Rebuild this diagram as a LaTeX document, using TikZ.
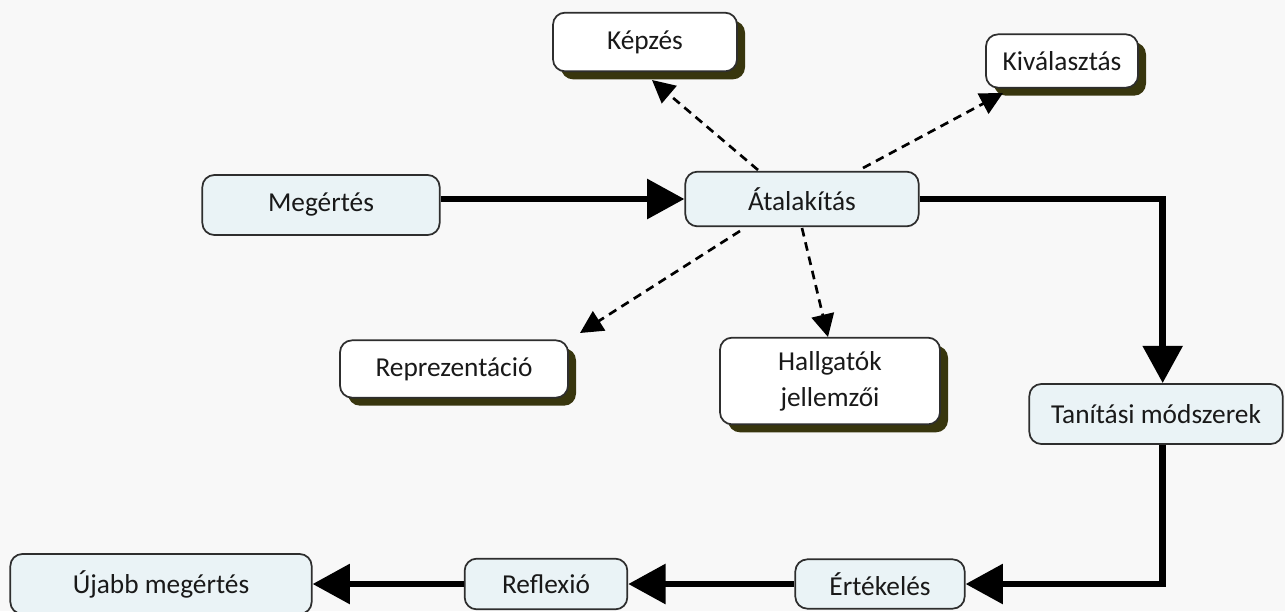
\documentclass[tikz,border=0pt]{standalone}
\usepackage{fontspec}
\setmainfont{Carlito}
\usetikzlibrary{arrows.meta,shadows,positioning}
\definecolor{bgcol}{HTML}{F8F8F8}
\definecolor{boxblue}{HTML}{EAF3F6}
\definecolor{edgecol}{HTML}{2E2E2E}
\definecolor{shadowcol}{HTML}{38360E}
\tikzset{
  box/.style={draw=edgecol, line width=1.3pt, rounded corners=9pt, align=center,
    font=\fontsize{20.5}{27}\selectfont, text=black!90, inner sep=0pt},
  bluebox/.style={box, fill=boxblue},
  whitebox/.style={box, fill=white,
    general shadow={fill=shadowcol, shadow xshift=6pt, shadow yshift=-6pt}},
  thickarrow/.style={line width=5.2pt, -{Triangle[length=28pt,width=29pt]}, line join=miter},
  dasharrow/.style={line width=2pt, dash pattern=on 6.5pt off 4.5pt, -{Triangle[length=17pt,width=17pt]}}
}
\begin{document}
\begin{tikzpicture}[x=0.75pt,y=-0.75pt]
\fill[bgcol] (0,0) rectangle (1285,611);
\useasboundingbox (0,0) rectangle (1285,611);
\begin{scope}
\clip (0,0) rectangle (1285,611);
\node[whitebox, minimum width=138pt, minimum height=44pt] (kepzes) at (645,42) {Képzés};
\node[whitebox, minimum width=114pt, minimum height=40pt] (kival) at (1062,61) {Kiválasztás};
\node[bluebox, minimum width=178pt, minimum height=45pt] (meg) at (321,205) {Megértés};
\node[bluebox, minimum width=175pt, minimum height=41pt] (atal) at (802,199) {Átalakítás};
\node[whitebox, minimum width=171pt, minimum height=43pt] (repr) at (454,369) {Reprezentáció};
\node[whitebox, minimum width=165pt, minimum height=65pt] (hall) at (830,381) {Hallgatók\\jellemzői};
\node[bluebox, minimum width=190pt, minimum height=45pt] (tan) at (1156,414) {Tanítási módszerek};
\node[bluebox, minimum width=127pt, minimum height=37pt] (ert) at (880,584) {Értékelés};
\node[bluebox, minimum width=122pt, minimum height=38pt] (refl) at (546,584) {Reflexió};
\node[bluebox, minimum width=226pt, minimum height=45pt] (ujabb) at (161,584) {Újabb megértés};

\draw[thickarrow] (meg.east |- atal.west) -- (atal.west);
\draw[thickarrow] (atal.east) -| ([xshift=5pt]tan.north);
\draw[thickarrow] ([xshift=5pt]tan.south) |- (ert.east);
\draw[thickarrow] (ert.west) -- (refl.east);
\draw[thickarrow] (refl.west) -- (ujabb.east);

\coordinate (k1) at (758,170);
\coordinate (k2) at (652,80);
\coordinate (v1) at (863,168);
\coordinate (v2) at (1003,93);
\coordinate (r1) at (740,231);
\coordinate (r2) at (580,333);
\coordinate (h1) at (802,228);
\coordinate (h2) at (828,337);
\draw[dasharrow] (k1) -- (k2);
\draw[dasharrow] (v1) -- (v2);
\draw[dasharrow] (r1) -- (r2);
\draw[dasharrow] (h1) -- (h2);
\end{scope}
\end{tikzpicture}
\end{document}
